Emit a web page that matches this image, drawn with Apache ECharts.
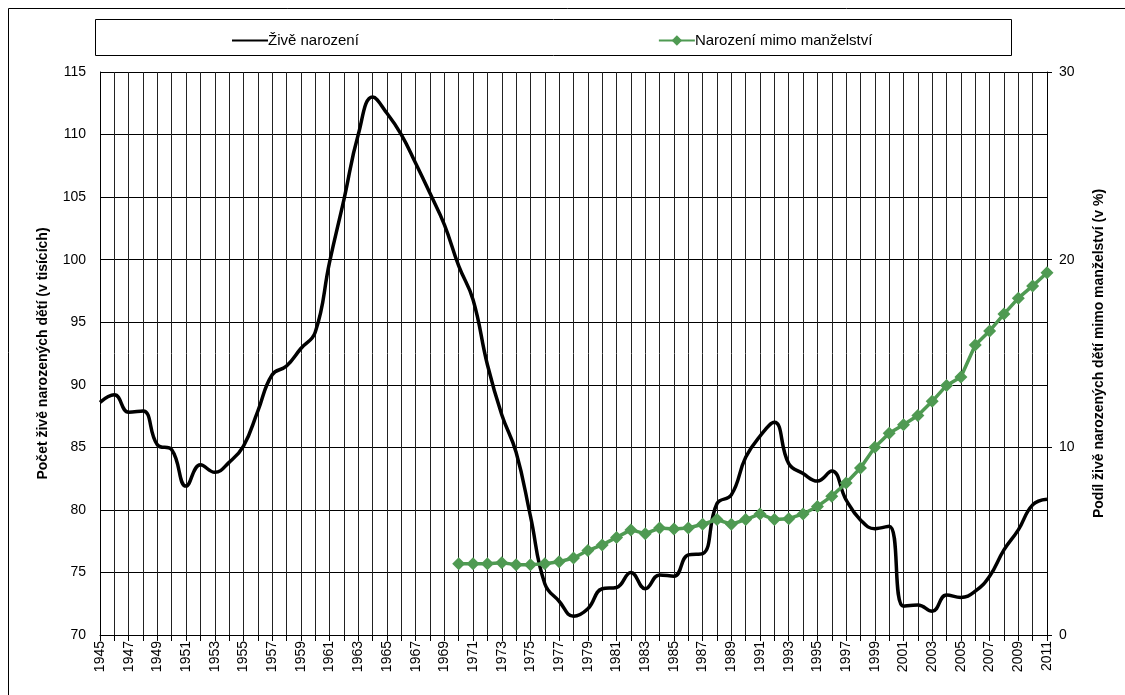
<!DOCTYPE html>
<html>
<head>
<meta charset="utf-8">
<script src="https://cdn.jsdelivr.net/npm/echarts@6/dist/echarts.min.js"></script>
<style>
  html, body { margin: 0; padding: 0; background: #fff; }
  #main { width: 1125px; height: 695px; }
</style>
</head>
<body>
<div id="main"></div>
<script>
// roky 1945-2011
var years = [];
for (var y = 1945; y <= 2011; y++) years.push(String(y));

// živě narození (v tisících), 1945-2011
var births = [
  88.6, 89.2, 87.8, 87.9, 85.2, 84.8, 81.9, 83.6, 83.0, 83.8,
  85.1, 87.9, 90.8, 91.5, 92.9, 94.2, 99.8, 104.8, 110.0, 113.0,
  111.7, 110.0, 107.7, 105.3, 102.8, 99.5, 96.8, 91.6, 87.6, 84.6,
  79.5, 74.1, 72.7, 71.5, 72.1, 73.7, 73.8, 75.0, 73.7, 74.8,
  74.7, 76.4, 76.5, 80.5, 81.2, 84.2, 85.9, 87.0, 83.7, 82.9,
  82.3, 83.1, 80.8, 79.2, 78.5, 78.7, 72.3, 72.4, 71.9, 73.2,
  73.0, 73.5, 74.7, 76.8, 78.4, 80.4, 80.85
];

// podíl narozených mimo manželství (v %), od 1970
var outside = [
  3.8, 3.8, 3.8, 3.85, 3.75, 3.75, 3.8, 3.9, 4.1, 4.5,
  4.8, 5.2, 5.6, 5.4, 5.7, 5.65, 5.7, 5.9, 6.15, 5.9,
  6.15, 6.45, 6.15, 6.2, 6.45, 6.85, 7.4, 8.1, 8.9, 10.0,
  10.75, 11.2, 11.7, 12.45, 13.3, 13.75, 15.45, 16.2, 17.1, 17.95,
  18.6, 19.3
];
var outsideFull = [];
for (var i = 0; i < 25; i++) outsideFull.push('-');
outsideFull = outsideFull.concat(outside);

var chartDom = document.getElementById('main');
var myChart = echarts.init(chartDom);
var option;

var font = 'Liberation Sans, Arial, sans-serif';

option = {
  backgroundColor: '#fff',
  animation: false,
  textStyle: { fontFamily: font },
  graphic: [
    {
      type: 'rect',
      shape: { x: 8.5, y: 8.5, width: 1130, height: 700 },
      style: { fill: 'none', stroke: '#000', lineWidth: 1 }
    },
    {
      type: 'rect',
      shape: { x: 95.5, y: 19.5, width: 916, height: 36 },
      style: { fill: 'none', stroke: '#000', lineWidth: 1 }
    }
  ],
  legend: {
    top: 28,
    left: 226,
    itemWidth: 36,
    itemHeight: 13,
    itemGap: 299,
    textStyle: { fontSize: 15, color: '#000', fontFamily: font, padding: [0, 0, 0, -5] },
    data: [
      { name: 'Živě narození', itemStyle: { opacity: 0 } },
      'Narození mimo manželství'
    ]
  },
  grid: {
    left: 100,
    right: 78,
    top: 72,
    bottom: 60
  },
  xAxis: {
    type: 'category',
    data: years,
    boundaryGap: false,
    axisLine: { lineStyle: { color: '#000', width: 1 } },
    axisTick: { show: true, interval: 0, length: 6, lineStyle: { color: '#000' } },
    axisLabel: {
      interval: 1,
      rotate: 90,
      fontSize: 14,
      color: '#000',
      margin: 6
    },
    splitLine: { show: true, interval: 0, lineStyle: { color: '#222', width: 1 } }
  },
  yAxis: [
    {
      type: 'value',
      min: 70,
      max: 115,
      interval: 5,
      name: 'Počet živě narozených dětí (v tisících)',
      nameLocation: 'middle',
      nameGap: 50,
      nameTextStyle: { fontSize: 14, fontWeight: 'bold', color: '#000' },
      axisLine: { show: true, lineStyle: { color: '#000' } },
      axisTick: { show: false },
      axisLabel: { fontSize: 14, color: '#000', margin: 14 },
      splitLine: { show: true, lineStyle: { color: '#000', width: 1 } }
    },
    {
      type: 'value',
      min: 0,
      max: 30,
      interval: 10,
      position: 'right',
      name: 'Podíl živě narozených dětí mimo manželství (v %)',
      nameLocation: 'middle',
      nameGap: 45,
      nameRotate: 90,
      nameTextStyle: { fontSize: 14, fontWeight: 'bold', color: '#000' },
      axisLine: { show: true, lineStyle: { color: '#000' } },
      axisTick: { show: true, length: 5, lineStyle: { color: '#000' } },
      axisLabel: { fontSize: 14, color: '#000', margin: 12 },
      splitLine: { show: false }
    }
  ],
  series: [
    {
      name: 'Živě narození',
      type: 'line',
      yAxisIndex: 0,
      data: births,
      smooth: 0.45,
      symbol: 'none',
      lineStyle: { color: '#000', width: 3.5 },
      itemStyle: { color: '#000' },
      z: 3
    },
    {
      name: 'Narození mimo manželství',
      type: 'line',
      yAxisIndex: 1,
      data: outsideFull,
      symbol: 'diamond',
      symbolSize: 13,
      showAllSymbol: true,
      lineStyle: { color: '#4f9a52', width: 3.5 },
      itemStyle: { color: '#4f9a52' },
      z: 4
    }
  ]
};

option && myChart.setOption(option);
</script>
</body>
</html>
